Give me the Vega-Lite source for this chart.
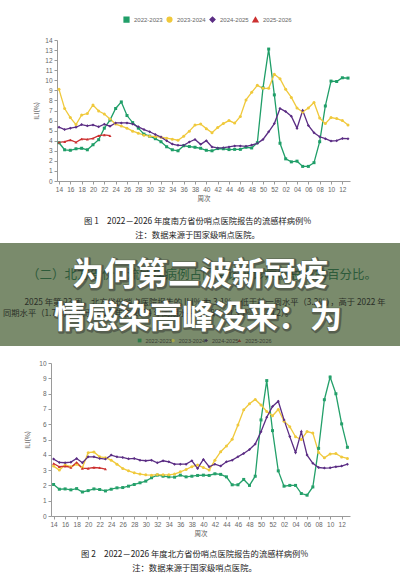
{
  "$schema": "https://vega.github.io/schema/vega-lite/v6.json",
  "background": "white",
  "padding": {"left": 0, "top": 16, "right": 0, "bottom": 0},
  "config": {
    "view": {"stroke": null},
    "font": "Noto Sans CJK SC",
    "axis": {
      "grid": false,
      "domainColor": "#9a9a9a",
      "tickColor": "#9a9a9a",
      "tickSize": 3,
      "labelColor": "#666666",
      "labelFont": "Liberation Sans",
      "labelFontSize": 6.5,
      "labelPadding": 2,
      "titleColor": "#555555",
      "titleFont": "Noto Sans CJK SC",
      "titleFontSize": 6.5,
      "titleFontWeight": "normal"
    },
    "title": {"font": "Noto Sans CJK SC", "fontWeight": "normal", "color": "#222222", "fontSize": 8.3, "lineHeight": 14}
  },
  "datasets": {
    "south": [
      {"week": "14", "2022-2023": 3.8, "2023-2024": 9.1, "2024-2025": 5.34, "2025-2026": 3.84},
      {"week": "15", "2022-2023": 3.1, "2023-2024": 7.2, "2024-2025": 5.11, "2025-2026": 3.9},
      {"week": "16", "2022-2023": 3.05, "2023-2024": 6.3, "2024-2025": 5.25, "2025-2026": 4.07},
      {"week": "17", "2022-2023": 3.2, "2023-2024": 5.6, "2024-2025": 5.34, "2025-2026": 3.84},
      {"week": "18", "2022-2023": 3.25, "2023-2024": 6.55, "2024-2025": 5.6, "2025-2026": 4.17},
      {"week": "19", "2022-2023": 3.1, "2023-2024": 6.7, "2024-2025": 5.48, "2025-2026": 4.14},
      {"week": "20", "2022-2023": 3.6, "2023-2024": 7.55, "2024-2025": 5.57, "2025-2026": 4.24},
      {"week": "21", "2022-2023": 4.1, "2023-2024": 6.95, "2024-2025": 5.38, "2025-2026": 4.5},
      {"week": "22", "2022-2023": 5.25, "2023-2024": 6.65, "2024-2025": 5.64, "2025-2026": 4.57},
      {"week": "23", "2022-2023": 6.05, "2023-2024": 6.15, "2024-2025": 5.44, "2025-2026": 4.5},
      {"week": "24", "2022-2023": 7.2, "2023-2024": 5.65, "2024-2025": 5.77},
      {"week": "25", "2022-2023": 7.85, "2023-2024": 5.45, "2024-2025": 5.77},
      {"week": "26", "2022-2023": 6.5, "2023-2024": 5.25, "2024-2025": 5.77},
      {"week": "27", "2022-2023": 5.8, "2023-2024": 4.95, "2024-2025": 5.67},
      {"week": "28", "2022-2023": 5.25, "2023-2024": 4.75, "2024-2025": 5.38},
      {"week": "29", "2022-2023": 4.65, "2023-2024": 4.55, "2024-2025": 5.11},
      {"week": "30", "2022-2023": 4.45, "2023-2024": 4.45, "2024-2025": 4.89},
      {"week": "31", "2022-2023": 4.2, "2023-2024": 4.4, "2024-2025": 4.62},
      {"week": "32", "2022-2023": 3.9, "2023-2024": 4.35, "2024-2025": 4.36},
      {"week": "33", "2022-2023": 3.4, "2023-2024": 4.25, "2024-2025": 4.0},
      {"week": "34", "2022-2023": 3.1, "2023-2024": 4.15, "2024-2025": 3.67},
      {"week": "35", "2022-2023": 3.0, "2023-2024": 4.05, "2024-2025": 3.54},
      {"week": "36", "2022-2023": 3.5, "2023-2024": 4.45, "2024-2025": 3.54},
      {"week": "37", "2022-2023": 3.42, "2023-2024": 4.95, "2024-2025": 3.87},
      {"week": "38", "2022-2023": 3.35, "2023-2024": 5.55, "2024-2025": 4.13},
      {"week": "39", "2022-2023": 3.25, "2023-2024": 5.65, "2024-2025": 3.64},
      {"week": "40", "2022-2023": 3.05, "2023-2024": 5.2, "2024-2025": 4.0},
      {"week": "41", "2022-2023": 3.0, "2023-2024": 4.8, "2024-2025": 3.38},
      {"week": "42", "2022-2023": 3.22, "2023-2024": 5.3, "2024-2025": 3.28},
      {"week": "43", "2022-2023": 3.2, "2023-2024": 5.7, "2024-2025": 3.31},
      {"week": "44", "2022-2023": 3.12, "2023-2024": 6.0, "2024-2025": 3.38},
      {"week": "45", "2022-2023": 3.14, "2023-2024": 5.75, "2024-2025": 3.48},
      {"week": "46", "2022-2023": 3.14, "2023-2024": 6.4, "2024-2025": 3.48},
      {"week": "47", "2022-2023": 3.35, "2023-2024": 8.05, "2024-2025": 3.44},
      {"week": "48", "2022-2023": 3.28, "2023-2024": 8.8, "2024-2025": 3.57},
      {"week": "49", "2022-2023": 3.8, "2023-2024": 9.5, "2024-2025": 3.74},
      {"week": "50", "2022-2023": 9.25, "2023-2024": 9.2, "2024-2025": 4.13},
      {"week": "51", "2022-2023": 13.1, "2023-2024": 9.2, "2024-2025": 4.89},
      {"week": "52", "2022-2023": 8.55, "2023-2024": 10.6, "2024-2025": 5.7},
      {"week": "01", "2022-2023": 3.75, "2023-2024": 10.15, "2024-2025": 7.2},
      {"week": "02", "2022-2023": 2.2, "2023-2024": 9.1, "2024-2025": 6.89},
      {"week": "03", "2022-2023": 1.9, "2023-2024": 8.3, "2024-2025": 6.43},
      {"week": "04", "2022-2023": 1.97, "2023-2024": 7.25, "2024-2025": 5.25},
      {"week": "05", "2022-2023": 1.45, "2023-2024": 6.85, "2024-2025": 7.0},
      {"week": "06", "2022-2023": 1.45, "2023-2024": 7.25, "2024-2025": 5.51},
      {"week": "07", "2022-2023": 1.82, "2023-2024": 7.8, "2024-2025": 4.79},
      {"week": "08", "2022-2023": 3.9, "2023-2024": 6.25, "2024-2025": 4.39},
      {"week": "09", "2022-2023": 7.45, "2023-2024": 5.7, "2024-2025": 4.2},
      {"week": "10", "2022-2023": 9.92, "2023-2024": 6.3, "2024-2025": 3.97},
      {"week": "11", "2022-2023": 9.88, "2023-2024": 6.2, "2024-2025": 4.0},
      {"week": "12", "2022-2023": 10.25, "2023-2024": 6.0, "2024-2025": 4.23},
      {"week": "13", "2022-2023": 10.22, "2023-2024": 5.55, "2024-2025": 4.2}
    ],
    "north": [
      {"week": "14", "2022-2023": 2.06, "2023-2024": 3.26, "2024-2025": 3.72, "2025-2026": 3.43},
      {"week": "15", "2022-2023": 1.75, "2023-2024": 3.0, "2024-2025": 3.5, "2025-2026": 3.22},
      {"week": "16", "2022-2023": 1.77, "2023-2024": 3.33, "2024-2025": 3.48, "2025-2026": 3.26},
      {"week": "17", "2022-2023": 1.71, "2023-2024": 3.22, "2024-2025": 3.52, "2025-2026": 3.17},
      {"week": "18", "2022-2023": 1.79, "2023-2024": 3.39, "2024-2025": 3.76, "2025-2026": 3.5},
      {"week": "19", "2022-2023": 1.57, "2023-2024": 3.17, "2024-2025": 3.48, "2025-2026": 3.11},
      {"week": "20", "2022-2023": 1.66, "2023-2024": 4.14, "2024-2025": 3.87, "2025-2026": 3.11},
      {"week": "21", "2022-2023": 1.77, "2023-2024": 4.18, "2024-2025": 3.87, "2025-2026": 3.17},
      {"week": "22", "2022-2023": 1.73, "2023-2024": 3.87, "2024-2025": 3.76, "2025-2026": 3.15},
      {"week": "23", "2022-2023": 1.64, "2023-2024": 3.81, "2024-2025": 3.72, "2025-2026": 3.07},
      {"week": "24", "2022-2023": 1.75, "2023-2024": 3.65, "2024-2025": 3.98},
      {"week": "25", "2022-2023": 1.84, "2023-2024": 3.39, "2024-2025": 3.87},
      {"week": "26", "2022-2023": 1.86, "2023-2024": 3.11, "2024-2025": 3.83},
      {"week": "27", "2022-2023": 1.95, "2023-2024": 2.95, "2024-2025": 3.74},
      {"week": "28", "2022-2023": 2.06, "2023-2024": 2.82, "2024-2025": 3.76},
      {"week": "29", "2022-2023": 2.17, "2023-2024": 2.74, "2024-2025": 3.65},
      {"week": "30", "2022-2023": 2.28, "2023-2024": 2.69, "2024-2025": 3.61},
      {"week": "31", "2022-2023": 2.5, "2023-2024": 2.67, "2024-2025": 3.65},
      {"week": "32", "2022-2023": 2.67, "2023-2024": 2.71, "2024-2025": 3.48},
      {"week": "33", "2022-2023": 2.6, "2023-2024": 2.69, "2024-2025": 3.61},
      {"week": "34", "2022-2023": 2.56, "2023-2024": 2.69, "2024-2025": 3.54},
      {"week": "35", "2022-2023": 2.54, "2023-2024": 2.74, "2024-2025": 3.39},
      {"week": "36", "2022-2023": 2.67, "2023-2024": 2.89, "2024-2025": 3.39},
      {"week": "37", "2022-2023": 2.56, "2023-2024": 3.04, "2024-2025": 3.39},
      {"week": "38", "2022-2023": 2.6, "2023-2024": 3.22, "2024-2025": 3.61},
      {"week": "39", "2022-2023": 2.65, "2023-2024": 3.33, "2024-2025": 3.11},
      {"week": "40", "2022-2023": 2.67, "2023-2024": 3.17, "2024-2025": 3.7},
      {"week": "41", "2022-2023": 2.65, "2023-2024": 3.0, "2024-2025": 3.22},
      {"week": "42", "2022-2023": 2.76, "2023-2024": 3.65, "2024-2025": 3.39},
      {"week": "43", "2022-2023": 2.72, "2023-2024": 4.2, "2024-2025": 3.26},
      {"week": "44", "2022-2023": 2.56, "2023-2024": 4.57, "2024-2025": 3.54},
      {"week": "45", "2022-2023": 2.04, "2023-2024": 5.01, "2024-2025": 3.65},
      {"week": "46", "2022-2023": 2.04, "2023-2024": 5.95, "2024-2025": 3.87},
      {"week": "47", "2022-2023": 2.39, "2023-2024": 6.94, "2024-2025": 4.09},
      {"week": "48", "2022-2023": 2.0, "2023-2024": 7.33, "2024-2025": 4.35},
      {"week": "49", "2022-2023": 2.6, "2023-2024": 7.62, "2024-2025": 4.7},
      {"week": "50", "2022-2023": 6.28, "2023-2024": 7.26, "2024-2025": 5.51},
      {"week": "51", "2022-2023": 8.85, "2023-2024": 6.83, "2024-2025": 6.46},
      {"week": "52", "2022-2023": 5.58, "2023-2024": 6.55, "2024-2025": 7.16},
      {"week": "01", "2022-2023": 2.95, "2023-2024": 6.96, "2024-2025": 7.5},
      {"week": "02", "2022-2023": 1.95, "2023-2024": 6.2, "2024-2025": 6.28},
      {"week": "03", "2022-2023": 2.0, "2023-2024": 5.84, "2024-2025": 5.19},
      {"week": "04", "2022-2023": 2.0, "2023-2024": 5.18, "2024-2025": 4.15},
      {"week": "05", "2022-2023": 1.47, "2023-2024": 5.0, "2024-2025": 5.51},
      {"week": "06", "2022-2023": 1.36, "2023-2024": 5.52, "2024-2025": 3.98},
      {"week": "07", "2022-2023": 1.9, "2023-2024": 5.42, "2024-2025": 3.44},
      {"week": "08", "2022-2023": 4.42, "2023-2024": 4.15, "2024-2025": 3.17},
      {"week": "09", "2022-2023": 7.6, "2023-2024": 3.8, "2024-2025": 3.13},
      {"week": "10", "2022-2023": 9.08, "2023-2024": 4.06, "2024-2025": 3.15},
      {"week": "11", "2022-2023": 7.99, "2023-2024": 4.08, "2024-2025": 3.22},
      {"week": "12", "2022-2023": 6.02, "2023-2024": 3.86, "2024-2025": 3.26},
      {"week": "13", "2022-2023": 4.49, "2023-2024": 3.76, "2024-2025": 3.39}
    ],
    "seasons": [
      {"season": "2022-2023"},
      {"season": "2023-2024"},
      {"season": "2024-2025"},
      {"season": "2025-2026"}
    ]
  },
  "spacing": 3,
  "resolve": {"scale": {"color": "independent", "shape": "independent"}},
  "vconcat": [
    {
      "spacing": 0,
      "hconcat": [
        {"width": 33, "height": 10, "data": {"values": []}, "mark": "point"},
        {
          "width": 293,
          "height": 141,
          "data": {"name": "south"},
          "transform": [
            {"fold": ["2022-2023", "2023-2024", "2024-2025", "2025-2026"], "as": ["season", "value"]},
            {"filter": "isValid(datum.value)"}
          ],
          "title": {
            "text": ["图 1　2022－2026 年度南方省份哨点医院报告的流感样病例%", "注：数据来源于国家级哨点医院。"],
            "orient": "bottom",
            "anchor": "middle",
            "offset": 15,
            "dx": -6
          },
          "encoding": {
            "x": {
              "field": "week",
              "type": "ordinal",
              "sort": null,
              "scale": {
                "type": "point",
                "padding": 0.35,
                "domain": ["14","15","16","17","18","19","20","21","22","23","24","25","26","27","28","29","30","31","32","33","34","35","36","37","38","39","40","41","42","43","44","45","46","47","48","49","50","51","52","01","02","03","04","05","06","07","08","09","10","11","12","13"]
              },
              "axis": {
                "title": "周次",
                "titlePadding": 3,
                "labelAngle": 0,
                "labelOverlap": false,
                "values": ["14","16","18","20","22","24","26","28","30","32","34","36","38","40","42","44","46","48","50","52","02","04","06","08","10","12"]
              }
            },
            "y": {
              "field": "value",
              "type": "quantitative",
              "scale": {"domain": [0, 14]},
              "axis": {"title": "ILI(%)", "titlePadding": 5, "values": [0,1,2,3,4,5,6,7,8,9,10,11,12,13,14]}
            },
            "color": {
              "field": "season",
              "type": "nominal",
              "scale": {
                "domain": ["2022-2023", "2023-2024", "2024-2025", "2025-2026"],
                "range": ["#1f9e68", "#f0c93c", "#5b2d84", "#cc3030"]
              },
              "legend": {
                "orient": "none",
                "legendX": 123,
                "legendY": -24,
                "direction": "horizontal",
                "title": null,
                "labelFontSize": 6,
                "labelColor": "#666666",
                "labelFont": "Liberation Sans",
                "symbolSize": 22,
                "labelOffset": 4,
                "columnPadding": 1
              }
            }
          },
          "layer": [
            {"mark": {"type": "line", "strokeWidth": 1.3}},
            {
              "mark": {"type": "point", "filled": true, "size": 9, "opacity": 1},
              "encoding": {
                "shape": {
                  "field": "season",
                  "type": "nominal",
                  "scale": {
                    "domain": ["2022-2023", "2023-2024", "2024-2025", "2025-2026"],
                    "range": ["square", "circle", "diamond", "triangle-up"]
                  }
                }
              }
            }
          ]
        }
      ]
    },
    {
      "spacing": 14,
      "resolve": {"scale": {"color": "independent", "shape": "independent"}},
      "vconcat": [
        {
          "width": 400,
          "height": 103,
          "view": {"fill": "#7a8b6c", "stroke": null},
          "layer": [
            {
              "data": {"values": [{"line": "（二）北方省份：流感样病例占门急诊就诊病例总数的百分比。"}]},
              "mark": {"type": "text", "fontSize": 12.5, "color": "#2d5a3a", "dy": -20, "dx": 2},
              "encoding": {"text": {"field": "line"}}
            },
            {
              "data": {"values": [{"line": "2025 年第 23 周，北方省份哨点医院报告的 ILI% 为 3.1%，低于前一周水平（3.2%），高于 2022 年"}]},
              "mark": {"type": "text", "fontSize": 8.3, "color": "#2a2f28", "dy": 8, "dx": 5},
              "encoding": {"text": {"field": "line"}}
            },
            {
              "data": {"values": [{"line": "同期水平（1.7%），低于 2023 年和 2024 年同期水平（3.8% 和 3.7%）（图 2）。"}]},
              "mark": {"type": "text", "fontSize": 8.3, "color": "#2a2f28", "align": "left", "dy": 19, "dx": -197},
              "encoding": {"text": {"field": "line"}}
            },
            {
              "data": {"name": "seasons"},
              "mark": {"type": "point", "filled": true, "size": 14, "opacity": 1, "yOffset": 46, "xOffset": -16},
              "encoding": {
                "x": {"field": "season", "type": "nominal", "scale": {"type": "point", "range": [139, 272]}, "axis": null},
                "color": {
                  "field": "season",
                  "type": "nominal",
                  "scale": {"domain": ["2022-2023", "2023-2024", "2024-2025", "2025-2026"], "range": ["#2f7a4a", "#a9a64a", "#3e3650", "#7a3e30"]},
                  "legend": null
                },
                "shape": {
                  "field": "season",
                  "type": "nominal",
                  "scale": {"domain": ["2022-2023", "2023-2024", "2024-2025", "2025-2026"], "range": ["square", "circle", "diamond", "triangle-up"]},
                  "legend": null
                }
              }
            },
            {
              "data": {"name": "seasons"},
              "mark": {"type": "text", "fontSize": 5.5, "font": "Liberation Sans", "color": "#3a4036", "yOffset": 46, "xOffset": 3},
              "encoding": {
                "x": {"field": "season", "type": "nominal", "scale": {"type": "point", "range": [139, 272]}, "axis": null},
                "text": {"field": "season"}
              }
            },
            {
              "data": {"values": [{"line": "为何第二波新冠疫"}]},
              "mark": {"type": "text", "fontSize": 32, "fontWeight": "bold", "color": "#2b2b2b", "stroke": "#2b2b2b", "strokeWidth": 3, "strokeJoin": "round", "opacity": 0.45, "dy": -19, "dx": 1},
              "encoding": {"text": {"field": "line"}}
            },
            {
              "data": {"values": [{"line": "为何第二波新冠疫"}]},
              "mark": {"type": "text", "fontSize": 32, "fontWeight": "bold", "color": "#ffffff", "dy": -20},
              "encoding": {"text": {"field": "line"}}
            },
            {
              "data": {"values": [{"line": "情感染高峰没来：为"}]},
              "mark": {"type": "text", "fontSize": 32, "fontWeight": "bold", "color": "#2b2b2b", "stroke": "#2b2b2b", "strokeWidth": 3, "strokeJoin": "round", "opacity": 0.45, "dy": 24, "dx": -1},
              "encoding": {"text": {"field": "line"}}
            },
            {
              "data": {"values": [{"line": "情感染高峰没来：为"}]},
              "mark": {"type": "text", "fontSize": 32, "fontWeight": "bold", "color": "#ffffff", "dy": 23, "dx": -2},
              "encoding": {"text": {"field": "line"}}
            }
          ]
        },
        {
          "spacing": 0,
          "hconcat": [
            {"width": 24, "height": 10, "data": {"values": []}, "mark": "point"},
            {
              "width": 299,
              "height": 153,
              "data": {"name": "north"},
              "transform": [
                {"fold": ["2022-2023", "2023-2024", "2024-2025", "2025-2026"], "as": ["season", "value"]},
                {"filter": "isValid(datum.value)"}
              ],
              "title": {
                "text": ["图 2　2022－2026 年度北方省份哨点医院报告的流感样病例%", "注：数据来源于国家级哨点医院。"],
                "orient": "bottom",
                "anchor": "middle",
                "offset": 13,
                "dx": -6
              },
              "encoding": {
                "x": {
                  "field": "week",
                  "type": "ordinal",
                  "sort": null,
                  "scale": {
                    "type": "point",
                    "padding": 0.45,
                    "domain": ["14","15","16","17","18","19","20","21","22","23","24","25","26","27","28","29","30","31","32","33","34","35","36","37","38","39","40","41","42","43","44","45","46","47","48","49","50","51","52","01","02","03","04","05","06","07","08","09","10","11","12","13"]
                  },
                  "axis": {
                    "title": "周次",
                    "titlePadding": 3,
                    "labelAngle": 0,
                    "labelOverlap": false,
                    "values": ["14","16","18","20","22","24","26","28","30","32","34","36","38","40","42","44","46","48","50","52","02","04","06","08","10","12"]
                  }
                },
                "y": {
                  "field": "value",
                  "type": "quantitative",
                  "scale": {"domain": [0, 10]},
                  "axis": {"title": "ILI(%)", "titlePadding": 8, "values": [0,1,2,3,4,5,6,7,8,9,10]}
                },
                "color": {
                  "field": "season",
                  "type": "nominal",
                  "scale": {
                    "domain": ["2022-2023", "2023-2024", "2024-2025", "2025-2026"],
                    "range": ["#24a06a", "#f0c93c", "#5b2d84", "#cc3030"]
                  },
                  "legend": null
                }
              },
              "layer": [
                {"mark": {"type": "line", "strokeWidth": 1.3}},
                {
                  "mark": {"type": "point", "filled": true, "size": 9, "opacity": 1},
                  "encoding": {
                    "shape": {
                      "field": "season",
                      "type": "nominal",
                      "scale": {
                        "domain": ["2022-2023", "2023-2024", "2024-2025", "2025-2026"],
                        "range": ["square", "circle", "diamond", "triangle-up"]
                      },
                      "legend": null
                    }
                  }
                }
              ]
            }
          ]
        }
      ]
    }
  ]
}
